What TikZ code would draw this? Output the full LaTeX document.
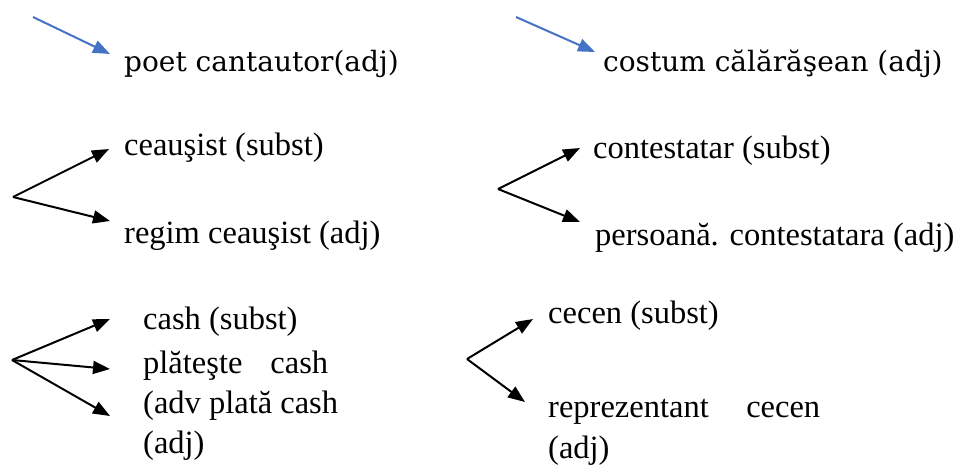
\documentclass[tikz,border=0pt]{standalone}
\usepackage{fontspec}
\setmainfont{Liberation Serif}
\newfontfamily\wideserif{DejaVu Serif}
\usepackage{tikz}
\usetikzlibrary{arrows.meta}
\definecolor{arrowblue}{RGB}{68,114,196}

\begin{document}
\begin{tikzpicture}[
  x=1pt, y=-1pt,
  word/.style={anchor=base west, inner sep=0pt, font=\fontsize{32.5}{38}\selectfont},
  topword/.style={anchor=base west, inner sep=0pt, font=\wideserif\fontsize{28}{34}\selectfont},
  arr/.style={line width=2pt, -{Triangle[length=17pt,width=13pt]}},
  bluearr/.style={arr, color=arrowblue}
]
  \useasboundingbox (0,0) rectangle (957,464);

  % top row
  \node[topword] (poet) at (124,71) {poet cantautor(adj)};
  \node[topword] (costum) at (603,71) {costum călărăşean (adj)};
  \coordinate (b1) at (33,17);
  \coordinate (b2) at (516,17);
  \draw[bluearr] (b1) -- ([shift={(-14,-17)}]poet.base west);
  \draw[bluearr] (b2) -- ([shift={(-8,-19)}]costum.base west);

  % second row
  \node[word] (ceau) at (124,155) {ceauşist (subst)};
  \node[word] (regim) at (124,243) {regim ceauşist (adj)};
  \node[word] (contest) at (593,158) {contestatar (subst)};
  \node[word] (persoana) at (595,245) {persoană. contestatara (adj)};
  \coordinate (c1) at (13,197);
  \coordinate (c2) at (498,189);
  \draw[arr] (c1) -- ([shift={(-15,-6)}]ceau.base west);
  \draw[arr] (c1) -- ([shift={(-14,-22)}]regim.base west);
  \draw[arr] (c2) -- ([shift={(-13,-10)}]contest.base west);
  \draw[arr] (c2) -- ([shift={(-15,-23)}]persoana.base west);

  % third row
  \node[word] (cash) at (143,329) {cash (subst)};
  \node[word] (plat) at (143,373) {\hbox to 185pt{plăteşte\hfill cash}};
  \node[word] (adv) at (143,413) {(adv plată cash};
  \node[word] (adjA) at (143,453) {(adj)};
  \node[word] (cecen) at (548,323) {cecen (subst)};
  \node[word] (repr) at (548,417) {\hbox to 272pt{reprezentant\hfill cecen}};
  \node[word] (adjB) at (548,458) {(adj)};
  \coordinate (d1) at (12,360);
  \coordinate (d2) at (467,359);
  \draw[arr] (d1) -- ([shift={(-33,-10)}]cash.base west);
  \draw[arr] (d1) -- ([shift={(-33,-4)}]plat.base west);
  \draw[arr] (d1) -- ([shift={(-33,3)}]adv.base west);
  \draw[arr] (d2) -- ([shift={(-15,-4)}]cecen.base west);
  \draw[arr] (d2) -- ([shift={(-23,-15)}]repr.base west);
\end{tikzpicture}
\end{document}
